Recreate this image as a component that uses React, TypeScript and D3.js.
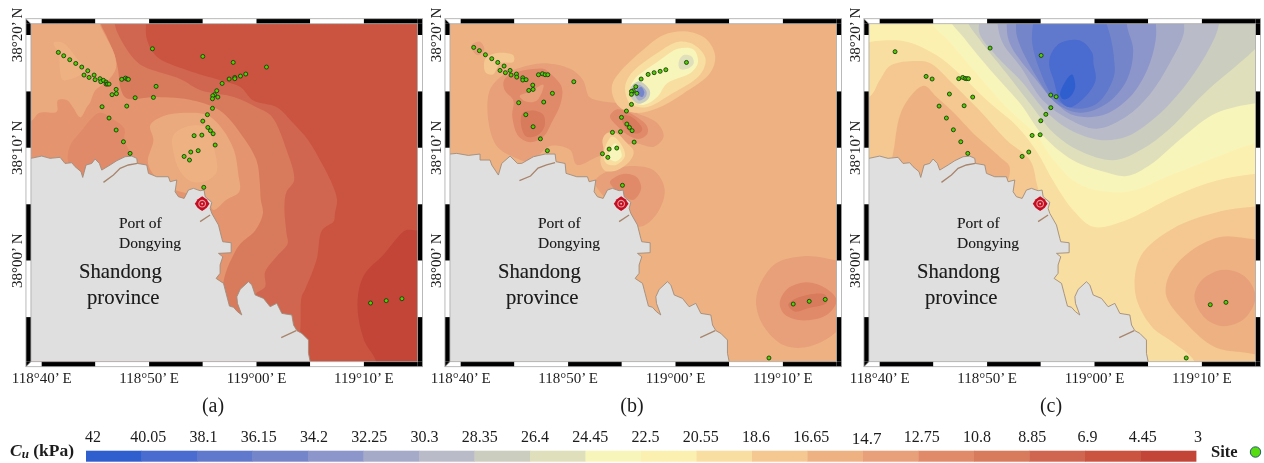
import React from "react";
import * as d3 from "d3";

type P = [number, number];

// ---- legend ----
const legendLabels = ["42","40.05","38.1","36.15","34.2","32.25","30.3","28.35","26.4","24.45","22.5","20.55","18.6","16.65","14.7","12.75","10.8","8.85","6.9","4.45","3"];
const palette = ["#2f5fce","#4a6bcf","#6079cc","#7486c9","#8c96cb","#a4aac8","#b9bcc8","#cbcdbf","#dfe0bb","#f8f5ba","#fbf0b0","#f8dea0","#f4c890","#eeb282","#e8a07a","#e08a6a","#d87a5c","#d06650","#ca5440","#c24538"];
const mapShades = ["#eba97e","#e4946e"];
const bandColours = [...palette, ...mapShades];

// ---- axis ticks (minutes past 118°40' E and past 38°00' N) ----
const lonTicks: [number, string][] = [[0,"118°40’ E"],[10,"118°50’ E"],[20,"119°00’ E"],[30,"119°10’ E"]];
const latTicks: [number, string][] = [[20,"38°20’ N"],[10,"38°10’ N"],[0,"38°00’ N"]];

// ---- coastline in the same minutes ----
const coastNorth: P[] = [[-1,9.07],[0,9.27],[.78,9.07],[1.71,9.16],[2.17,8.62],[2.8,8.68],[3.11,8.33],[3.66,7.89],[3.82,7.38],[4.13,8.48],[4.66,8.62],[4.97,9.01],[5.37,8.62],[5.59,8.03],[6.37,8.48],[6.99,8.86],[7.76,9.21],[8.39,9.27],[8.85,9.07],[8.91,8.62],[9.78,8.48],[9.94,7.74],[10.71,7.44]];
const coastNorthB: P[] = [[-1,9.45],[-.37,9.51],[.71,9.33],[1.8,9.45],[1.8,8.92],[2.73,8.92],[2.89,8.48],[3.51,7.59],[3.82,8.62],[4.6,9.27],[5.28,8.62],[5.68,8.62],[6.77,9.21],[7.86,9.45],[8.79,9.45],[8.88,8.77],[9.72,8.62],[9.81,7.74],[10.81,7.44]];
const coastSouth: P[] = [[11.8,7.44],[11.96,7],[12.58,7.15],[12.42,6.11],[12.73,5.67],[13.26,5.52],[13.66,6.26],[14.13,6.41],[14.75,6.2],[15.12,6.26],[15.22,5.67],[15.84,5.17],[15.68,4.64],[15.84,4.19],[16.46,3.16],[16.77,1.98],[16.86,1.68],[17.64,1.59],[17.64,.71],[16.46,.65],[16.86,.35],[16.61,-.38],[16.61,-1.12],[16.24,-1.57],[16.93,-2.01],[17.17,-2.89],[17.48,-4.02],[17.86,-4.13],[18.23,-4.52],[18.63,-4.81],[18.23,-3.78],[18.17,-3.19],[18.48,-2.54],[19.25,-1.86],[19.57,-2.16],[19.88,-3.04],[20.65,-3.34],[21.27,-4.08],[21.89,-3.78],[22.36,-4.67],[23.29,-4.81],[23.45,-5.7],[23.76,-6.2],[24.22,-6.44],[24.84,-7.03],[24.84,-8.21],[25,-8.95]];
const landCorners: P[] = [[-1,-8.95]];
const riverSpit: P[] = [[8.91,8.62],[8.07,8.48],[7.3,8.18],[6.68,7.59],[5.75,6.94]];
const riverSpitB: P[] = [[8.79,8.7],[8,8.5],[7.2,8.2],[6.5,7.5],[5.47,7.1]];
const otherSpits: P[][] = [
  [[15.68,4.05],[14.75,3.46]],
  [[23.7,-6.2],[22.3,-6.82]],
];
const port: P = [14.94,5.05];

// ---- survey sites ----
const sitesA: P[] = [[1.55,18.46],[2.05,18.16],[2.61,17.81],[3.17,17.48],[3.73,17.16],[4.29,16.83],[3.94,16.45],[4.41,16.24],[4.88,16.45],[4.97,16.04],[5.43,16.13],[5.5,15.86],[5.75,15.98],[5.99,15.83],[5.99,15.65],[6.12,15.65],[6.27,15.65],[7.45,16.07],[7.8,16.18],[7.95,16.1],[8.07,16.07],[6.93,15.18],[6.96,14.8],[6.55,14.71],[8.7,14.44],[10.65,15.45],[10.4,14.47],[10.31,18.78],[5.62,13.64],[7.92,13.7],[6.27,12.64],[6.93,11.58],[7.61,10.54],[8.23,9.51],[15,18.1],[17.83,17.57],[20.93,17.16],[19,16.54],[18.51,16.36],[17.98,16.24],[17.98,16.13],[17.45,16.1],[16.8,15.71],[16.3,15.06],[16.09,14.71],[15.93,14.62],[15.9,14.35],[16.4,14.5],[15.9,13.5],[15.43,12.94],[15,12.37],[15.47,11.81],[15.71,11.52],[15.96,11.25],[14.91,11.13],[14.19,11.08],[16.15,10.25],[14.57,9.75],[13.88,9.63],[13.26,9.24],[13.76,8.92],[15.09,6.5],[30.62,-3.75],[32.08,-3.54],[33.54,-3.37]];
const sitesB: P[] = [[1.21,18.9],[1.74,18.61],[2.3,18.25],[2.89,17.9],[3.45,17.57],[4.04,17.25],[3.66,16.86],[4.16,16.66],[4.6,16.86],[4.69,16.45],[5.19,16.54],[5.22,16.27],[5.78,16.21],[5.78,16.01],[6.09,16.04],[7.24,16.48],[7.61,16.57],[7.86,16.48],[8.11,16.48],[10.53,15.86],[6.71,15.56],[6.74,15.18],[6.34,15.09],[8.54,14.83],[5.4,14],[7.73,14.06],[6.06,12.94],[6.74,11.87],[7.42,10.8],[8.07,9.75],[21.02,17.57],[19.1,16.92],[18.57,16.78],[18.01,16.66],[17.45,16.51],[16.8,16.1],[16.3,15.42],[16.06,15.06],[15.9,15],[15.9,14.74],[16.4,14.83],[15.9,13.85],[15.43,13.26],[14.97,12.7],[15.47,12.11],[15.71,11.81],[15.96,11.52],[14.88,11.43],[14.13,11.37],[16.15,10.51],[14.53,9.98],[13.82,9.89],[13.2,9.48],[13.7,9.16],[15.06,6.68],[30.96,-3.84],[32.45,-3.6],[33.94,-3.43],[28.7,-8.62]];
const sitesC: P[] = [[1.43,18.52],[4.32,16.33],[4.88,16.1],[7.36,16.13],[7.73,16.24],[7.95,16.15],[8.11,16.13],[8.26,16.13],[6.49,14.77],[8.66,14.5],[10.28,18.84],[5.53,13.7],[7.86,13.73],[6.21,12.64],[6.86,11.6],[7.55,10.54],[8.2,9.51],[15.03,18.19],[15.93,14.68],[16.43,14.53],[15.93,13.56],[15.47,12.97],[15,12.4],[14.94,11.16],[14.19,11.1],[13.88,9.63],[13.26,9.24],[30.78,-3.9],[32.24,-3.69],[28.54,-8.62]];

// ---- contour bands: [colour class, outline], painted in order ----
type Band = [number, P[]];
const bandsA: Band[] = [
  [18, [[-5,-14],[-5,26],[40,26],[40,-14]]],
  [17, [[9.7,26],[9.7,21.6],[9.7,21],[9.8,19.6],[10.7,18.1],[13.5,16.9],[16.6,16],[18.5,15.4],[19.7,14.2],[21.9,13.6],[23.4,12.2],[24.8,10.7],[26.1,8.6],[26.9,7.1],[27.5,5.4],[27.3,4.2],[27.2,3.5],[26.1,2.7],[25.6,.1],[24.5,-2.6],[24.2,-3.2],[24.1,-5.8],[23.9,-9.4],[23.9,-14],[-5,-14],[-5,26]]],
  [16, [[6.8,26],[6.8,21.6],[6.8,21],[7.1,20.1],[8.4,18.1],[9.5,17.2],[12.9,16.1],[14.8,15.1],[17.9,14.5],[20,13.6],[21.4,12.8],[22.8,9.8],[23.5,7.1],[22.8,6.1],[22.6,4.8],[22.8,2.4],[22.9,1.5],[21.9,.4],[20.8,-1],[20.8,-2.3],[19.9,-3],[19.7,-6.4],[19.7,-14],[-5,-14],[-5,26]]],
  [21, [[5.5,26],[5.5,21.6],[5.5,21],[6,20],[6.8,18.2],[7.1,17],[7.4,15.1],[7.9,14.4],[10.7,14.5],[14.1,14.2],[16.6,13.3],[18.5,11.3],[20,8.9],[20.3,7],[20.4,5.4],[20.6,4.2],[19.9,2.7],[18.5,1.5],[17.9,.6],[16.9,-2],[16.9,-14],[-5,-14],[-5,26]]],
  [20, [[-5,26],[5.4,26],[5.4,21.6],[5.4,21],[5.9,20],[6.8,18.2],[6.9,17],[6.2,16],[5,15.1],[4.5,14],[4.2,13.6],[3.6,12.7],[2.9,13.6],[2.4,14.2],[1.5,14.2],[1.4,13.2],[-.2,13.1],[-1.1,12.3],[-5,12]]],
  [15, [[5.4,13.1],[6.7,12.5],[7.7,11.7],[7.7,10.7],[8.4,9.2],[8.5,7.7],[3.6,7.1],[2.5,8.6],[2.6,10.1],[3.6,11.4]]],
  [20, [[10.1,12],[11.3,12.8],[13.5,13.1],[15.4,12.9],[16.8,11.7],[17.9,9.8],[18.3,7.7],[18.4,6.1],[17.2,5.4],[16,4.5],[15.4,5.4],[11.6,6.6],[9.9,8.6],[10.4,10.7]]],
  [13, [[12.2,11],[13,11.7],[14.4,12],[15.5,11.7],[16,10.1],[16.3,7.9],[15.4,7.1],[14,7],[12.9,7.9],[12.3,9.5]]],
  [13, [[1.1,19.3],[2,19.3],[3.3,17.9],[4.1,16.9],[2,16],[1.7,16.9],[1.6,18.4]]],
  [19, [[35.9,3],[35,2.7],[33.9,2.7],[32.9,1.8],[31.8,.5],[30,-1.3],[29.4,-3.8],[30,-7],[31.2,-9.1],[31.2,-14],[40,-14],[40,3]]],
];
const bandsB: Band[] = [
  [13, [[-5,-14],[-5,26],[40,26],[40,-14]]],
  [14, [[2.7,15.1],[4,16.5],[5.2,17],[7.7,17.5],[10.2,17],[11.4,16],[12,14.5],[13.3,14.1],[14.8,13.9],[15.8,13.3],[18.3,12.2],[18.9,11],[18,10.1],[16.1,10.4],[14.5,9.8],[12.7,9.2],[10.8,8.5],[10.2,9.8],[8.6,10.2],[8,10],[6.5,8.8],[4.9,9.2],[3.4,10.1],[2.6,12.2]]],
  [15, [[4,15.9],[4.6,16.5],[7.7,17],[8.2,16.7],[9.4,15.4],[9.3,13.9],[8.5,12.3],[7.7,11],[6.5,10.5],[5.4,11],[4.8,12.8],[4.9,14.2],[4.1,15.1]]],
  [14, [[5.5,14.6],[6.5,15],[7.7,15.6],[7.1,14.2],[6.1,14.1]]],
  [16, [[5.6,12.2],[5.8,13.1],[6.8,13.3],[7.7,12.9],[7.8,11.9],[7.1,11.1],[6.1,11]]],
  [15, [[13.9,12.8],[14.5,13.4],[15.5,13.2],[17.3,12],[17.4,11.3],[16.7,10.8],[15.8,11],[14.5,12]]],
  [16, [[15,12.8],[15.8,12.8],[16.9,11.7],[16.6,11.3],[15.8,11.4],[15.2,12]]],
  [14, [[1,19.1],[1.8,19.4],[2.2,18.7],[1.6,18.2],[1.2,18.5]]],
  [12, [[2.3,17.9],[3.4,18.4],[4.9,18.2],[4.9,17.6],[3.7,17.5],[3,16.5],[2.3,16.7]]],
  [14, [[12.5,7],[13.6,7.9],[15.8,8.4],[18,8],[19,6.3],[18.3,4.2],[16.7,3],[14.5,4.2],[13.3,5.7]]],
  [15, [[13.9,7],[15.2,7.7],[16.4,7.4],[16.8,6.4],[16.1,5.4],[15.2,5.7],[14.1,6.6]]],
  [12, [[14.1,15.6],[14.8,16.7],[17,18.7],[18.9,20],[21.1,20.3],[22.9,19.6],[23.7,18.1],[23.2,16.6],[20.7,14.8],[18.3,13.5],[16.4,13.1],[14.8,13.6],[14.2,14.5]]],
  [11, [[15.3,15.3],[15.8,16.5],[18.3,18.4],[20.3,19.4],[21.8,19.1],[22.8,17.9],[22.3,16.5],[19.5,14.7],[17.3,13.6],[15.8,13.9]]],
  [9, [[15.8,15.1],[16.1,16],[18.3,17.6],[20.3,18.8],[21.7,18.7],[22.1,17.6],[21.5,16.7],[19.2,15.7],[18.3,14.5],[17,13.8],[16.1,14.1]]],
  [8, [[20.3,17.6],[20.7,18.2],[21.5,18.1],[21.7,17.5],[21.1,17],[20.4,17]]],
  [7, [[15.8,15.3],[16.6,15.9],[17.6,15.1],[17.5,14.4],[16.6,13.9],[15.9,14.4]]],
  [5, [[16.1,15.1],[16.6,15.6],[17.3,15],[17.2,14.5],[16.6,14.2]]],
  [3, [[16.4,15.1],[16.8,15.4],[17.1,14.9],[16.9,14.5],[16.5,14.7]]],
  [12, [[13.2,10.7],[13.6,11.3],[14.5,11.3],[15.5,10.4],[16.1,9.7],[15.8,8.9],[14.5,8],[13.4,8],[13,8.9],[13.3,9.8]]],
  [11, [[13.6,10.4],[14.1,11],[14.8,10.5],[15.3,9.3],[14.5,8.5],[13.6,8.6],[13.3,9.2]]],
  [9, [[13.9,9.8],[14.4,10.4],[15,9.3],[14.4,8.8],[13.8,9.1]]],
  [14, [[27.5,-3.8],[27.9,-2],[29.4,-.2],[31.9,.4],[34.1,.2],[35.7,-.4],[36.3,-3.8],[35.2,-6.1],[32.5,-7.6],[30.1,-7.5],[28.2,-5.8]]],
  [15, [[29.7,-3.8],[30.4,-2.5],[32.2,-1.9],[34.1,-2.5],[35,-3.5],[34.1,-4.8],[31.9,-5.3],[30.2,-4.8]]],
  [16, [[30.5,-3.9],[31.3,-3.3],[33.9,-3],[34.1,-3.7],[32.4,-4.2],[31.1,-4.5]]],
];
const bandsC: Band[] = [
  [11, [[-5,-14],[-5,26],[40,26],[40,-14]]],
  [12, [[-5,13.9],[-1,14.5],[0,16],[1,17.3],[3.4,17.7],[4.7,17.5],[6.9,15.6],[9.3,13.3],[11.8,10.7],[14,8.9],[14.6,6.9],[14.9,4.8],[11.8,2.4],[-5,2.4]]],
  [13, [[1.4,10.4],[2.2,13.6],[4.1,15.5],[5.3,14.5],[6.9,13.1],[8.7,11.3],[11.2,9.2],[12.1,8.3],[11.5,6.6],[1.3,5.4]]],
  [12, [[40,5.1],[35,4.8],[31.4,4.3],[27.4,2.9],[24.3,.4],[23.8,-2.9],[25.3,-5.8],[27.4,-7.3],[29.4,-9.1],[29.4,-14],[40,-14]]],
  [13, [[40,1.8],[35,1.9],[31.7,2.1],[28.6,.6],[26.9,-1.4],[26.7,-3.2],[28.6,-5.6],[31.1,-7.6],[33.6,-8.1],[40,-8.1]]],
  [14, [[29.3,-3.2],[30,-1.7],[32,-.8],[34,-1.4],[35,-3.2],[34,-5.1],[32,-5.8],[30.2,-5]]],
  [10, [[-5,19.1],[0,19.5],[2.5,19.4],[5.3,18.2],[7.5,16.5],[10,14.2],[12.8,11.9],[14.6,9.7],[16.2,7],[18,4.5],[19.9,3],[22.7,3.5],[27.4,5.7],[31.4,7.1],[36.1,7.8],[42,8],[42,28],[-5,28]]],
  [9, [[4,28],[4.5,21.6],[6.6,19.3],[9,16.6],[11.8,13.6],[14.6,11.1],[16.2,8.9],[18.7,6.7],[23,6.1],[27.4,7.7],[31.4,9.2],[36.1,10.7],[42,11],[42,28]]],
  [8, [[6,28],[6.4,21.6],[7.8,19.8],[10.3,16.9],[13.1,13.9],[15.2,11.1],[18,8.9],[20.8,7.9],[23,7.5],[25.2,8.5],[28.3,11],[31.4,13.1],[36.1,14.1],[42,14.5],[42,28]]],
  [7, [[8,28],[8,21.6],[9.3,19.6],[11.8,16.6],[14,13.9],[16.2,11.3],[18.7,9.7],[21.8,8.9],[24.3,9.8],[27,11.7],[30.2,14.8],[35,18.8],[36.1,20.1],[42,22],[42,28]]],
  [6, [[9.3,28],[9.3,21.6],[9.3,20.1],[10.9,18.1],[13.1,16],[15.6,13.1],[17.7,11.6],[20.5,10.7],[23,11],[25.8,12.8],[28.6,15.7],[30.8,19],[31.6,21],[32,28]]],
  [5, [[10.9,28],[10.9,21.6],[11.4,19.4],[13.1,17.2],[15.2,14.2],[17.7,12.5],[20.2,11.7],[23,12.8],[25.2,14.8],[27,17.5],[28.3,20.1],[28.3,21.6],[28.3,28]]],
  [4, [[11.8,28],[11.8,21.6],[12.1,19.3],[14.6,16],[16.2,14.2],[18,12.9],[20.8,12.9],[23.3,14.5],[24.9,16.9],[25.7,19.6],[25.7,21.6],[25.7,28]]],
  [3, [[12.7,28],[12.7,21.6],[12.8,19.8],[14.6,16.3],[16.5,13.9],[18.7,13.1],[21.1,13.9],[23,16],[23.6,18.7],[23,21],[23,28]]],
  [2, [[14.3,28],[14.3,21.6],[14.2,19.3],[14.9,16.9],[16.2,14.5],[18,13.5],[20.2,13.9],[21.8,16.3],[21.8,18.1],[21.5,19.8],[21,21.6],[21,28]]],
  [1, [[15.9,18.2],[16.8,19.3],[18.7,19.5],[19.8,18.4],[19.9,17.5],[20.1,16],[19.1,14.5],[17.7,13.6],[16.8,14.2],[16.2,16],[15.8,17.2]]],
  [0, [[16.8,14.7],[17.3,15.9],[17.9,16.5],[18.2,15.4],[17.7,14.5],[17.1,14.3]]],
];
const panels = [
  { id: "a", bands: bandsA, sites: sitesA, tag: "(a)", north: coastNorth, spit: riverSpit },
  { id: "b", bands: bandsB, sites: sitesB, tag: "(b)", north: coastNorthB, spit: riverSpitB },
  { id: "c", bands: bandsC, sites: sitesC, tag: "(c)", north: coastNorth, spit: riverSpit },
];
const panelSpacing = 419;
const lonStops = [-1,0,5,10,15,20,25,30,35];
const latStops = [21,20,15,10,5,0,-5,-8.95];

const serif = "'Liberation Serif', serif";
const ink = "#1c1c1c";
const x = d3.scaleLinear().domain([0, 10]).range([41.7, 149.1]);
const y = d3.scaleLinear().domain([0, 10]).range([260.7, 147.85]);
const L = x(-1), R = x(35), T = y(21), B = y(-8.95);
const bar = 5;
const smooth = d3.line<P>().x(d => x(d[0])).y(d => y(d[1])).curve(d3.curveCatmullRomClosed.alpha(0.5));
const straight = d3.line<P>().x(d => x(d[0])).y(d => y(d[1]));
const legendX = d3.scaleBand<number>().domain(d3.range(palette.length)).range([86, 1196]);
const legendTick = d3.scalePoint<string>().domain(legendLabels).range([93, 1198]);

function Frame() {
  const top = d3.pairs(lonStops);
  const side = d3.pairs(latStops);
  return (
    <g>
      {top.map(([a, b], i) => (
        <g key={i}>
          <rect x={x(a)} y={T - bar} width={x(b) - x(a)} height={bar} fill={i % 2 ? "#000" : "#fff"} />
          <rect x={x(a)} y={B} width={x(b) - x(a)} height={bar} fill={i % 2 ? "#000" : "#fff"} />
        </g>
      ))}
      {side.map(([a, b], i) => (
        <g key={i}>
          <rect x={L - bar} y={y(a)} width={bar} height={y(b) - y(a)} fill={i % 2 ? "#fff" : "#000"} />
          <rect x={R} y={y(a)} width={bar} height={y(b) - y(a)} fill={i % 2 ? "#fff" : "#000"} />
        </g>
      ))}
      <path d={`M${L - bar},${T - bar}L${L},${T}L${L - bar},${T}Z`} fill="#000" />
      <path d={`M${R + bar},${T - bar}L${R},${T}H${R + bar}ZM${R + bar},${T - bar}L${R},${T}V${T - bar}Z`} fill="#000" />
      <path d={`M${L - bar},${B + bar}L${L},${B}H${L - bar}Z`} fill="#000" />
      <path d={`M${R},${B}H${R + bar}V${B + bar}H${R}Z`} fill="#000" />
      <rect x={L - bar} y={T - bar} width={R - L + 2 * bar} height={B - T + 2 * bar} fill="none" stroke="#a8a8a8" strokeWidth={0.8} />
      <rect x={L} y={T} width={R - L} height={B - T} fill="none" stroke="#a8a8a8" strokeWidth={0.8} />
      <path d={`M${L - bar},${T - bar}L${L},${T}M${L - bar},${B + bar}L${L},${B}`} stroke="#a8a8a8" strokeWidth={0.8} />
    </g>
  );
}

function Target() {
  const px = x(port[0]), py = y(port[1]);
  return (
    <g transform={`translate(${px},${py})`}>
      <circle r={6.2} fill="#c40d20" />
      {[0, 90, 180, 270].map(a => (
        <path key={a} d="M-2.8,-5.4L0,-7.4L2.8,-5.4Z" fill="#c40d20" transform={`rotate(${a})`} />
      ))}
      <circle r={3.3} fill="none" stroke="#f09aa0" strokeWidth={1.1} />
      <circle r={0.9} fill="#f5c8c8" />
    </g>
  );
}

function Panel({ id, bands, sites, tag, north, spit }: { id: string; bands: Band[]; sites: P[]; tag: string; north: P[]; spit: P[] }) {
  const coast = [...north, ...coastSouth];
  const land = straight([...coast, ...landCorners]) + "Z";
  return (
    <g>
      <clipPath id={`map-${id}`}>
        <rect x={L} y={T} width={R - L} height={B - T} />
      </clipPath>
      <g clipPath={`url(#map-${id})`}>
        {bands.map(([k, pts], i) => (
          <path key={i} d={smooth(pts) ?? ""} fill={bandColours[k]} />
        ))}
        <path d={land} fill="#dfdfdf" />
        <path d={straight(coast) ?? ""} fill="none" stroke="#a08c7c" strokeWidth={0.9} />
        {[spit, ...otherSpits].map((s, i) => (
          <path key={i} d={straight(s) ?? ""} fill="none" stroke="#a8846c" strokeWidth={1.3} />
        ))}
      </g>
      <Frame />
      {sites.map((s, i) => (
        <circle key={i} cx={x(s[0])} cy={y(s[1])} r={2} fill="#50d000" stroke="#1c3a10" strokeWidth={0.9} />
      ))}
      <Target />
      {lonTicks.map(([v, t]) => (
        <text key={t} x={x(v)} y={383} textAnchor="middle" fontFamily={serif} fontSize={15} fill={ink}>{t}</text>
      ))}
      {latTicks.map(([v, t]) => (
        <text key={t} transform={`translate(22,${y(v)}) rotate(-90)`} textAnchor="middle" fontFamily={serif} fontSize={15} fill={ink}>{t}</text>
      ))}
      <g fontFamily={serif} fill={ink} style={{ filter: "drop-shadow(0.6px 0.6px 0.7px rgba(0,0,0,.35))" }}>
        <text x={119} y={228} fontSize={15.5}>Port of</text>
        <text x={119} y={248} fontSize={15.5}>Dongying</text>
        <text x={79} y={278} fontSize={20.7}>Shandong</text>
        <text x={87} y={304} fontSize={20.7}>province</text>
      </g>
      <text x={213} y={412} textAnchor="middle" fontFamily={serif} fontSize={20} fill={ink}>{tag}</text>
    </g>
  );
}

export default function App() {
  return (
    <svg width={1264} height={463} viewBox="0 0 1264 463"
      style={{ position: "absolute", left: 0, top: 0, display: "block", background: "#fff", filter: "blur(0.35px)" }}>
      {panels.map((p, i) => (
        <g key={p.id} transform={`translate(${i * panelSpacing},0)`}>
          <Panel {...p} />
        </g>
      ))}
      {palette.map((c, i) => (
        <rect key={i} x={legendX(i)} y={450.7} width={legendX.bandwidth() + 0.4} height={11} fill={c} />
      ))}
      {legendLabels.map(l => (
        <text key={l} x={legendTick(l)} y={l === "14.7" ? 443.5 : 442} textAnchor="middle" fontFamily={serif} fontSize={l === "14.7" ? 17 : 16} fill={ink}>{l}</text>
      ))}
      <text x={10} y={456} fontFamily={serif} fontWeight="bold" fontSize={17.5} fill={ink}>
        <tspan fontStyle="italic">C</tspan><tspan fontStyle="italic" fontSize={13} dy={2}>u</tspan><tspan dy={-2}> (kPa)</tspan>
      </text>
      <text x={1211} y={457} fontFamily={serif} fontWeight="bold" fontSize={16.5} fill={ink}>Site</text>
      <circle cx={1255.5} cy={452} r={5.2} fill="#55dd10" stroke="#2b5a70" strokeWidth={1} />
    </svg>
  );
}
